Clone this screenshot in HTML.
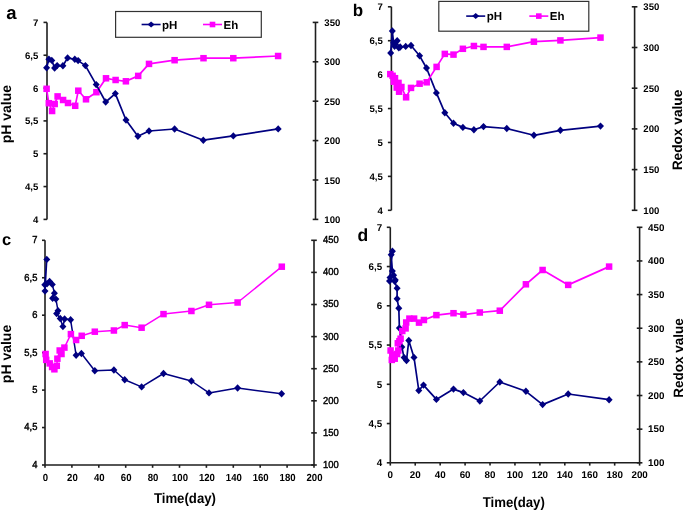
<!DOCTYPE html>
<html><head><meta charset="utf-8"><style>
html,body{margin:0;padding:0;background:#fff;}
body{width:685px;height:511px;overflow:hidden;}
svg{display:block;will-change:transform;filter:blur(0.3px);}
text{font-family:"Liberation Sans", sans-serif;text-rendering:geometricPrecision;}
</style></head><body>
<svg width="685" height="511" viewBox="0 0 685 511">
<rect width="685" height="511" fill="#fff"/>
<g font-family='"Liberation Sans", sans-serif' fill="#000">
<line x1="47" y1="22.4" x2="47" y2="219.4" stroke="#1e1e1e" stroke-width="1.6"/>
<line x1="43.5" y1="22.4" x2="47" y2="22.4" stroke="#1e1e1e" stroke-width="1.6"/>
<text transform="translate(38.30,25.90) scale(1.0,1.0)" font-size="9.6" text-anchor="end" font-weight="bold" >7</text>
<line x1="43.5" y1="55.233333333333334" x2="47" y2="55.233333333333334" stroke="#1e1e1e" stroke-width="1.6"/>
<text transform="translate(38.30,58.73) scale(1.0,1.0)" font-size="9.6" text-anchor="end" font-weight="bold" >6,5</text>
<line x1="43.5" y1="88.06666666666666" x2="47" y2="88.06666666666666" stroke="#1e1e1e" stroke-width="1.6"/>
<text transform="translate(38.30,91.57) scale(1.0,1.0)" font-size="9.6" text-anchor="end" font-weight="bold" >6</text>
<line x1="43.5" y1="120.9" x2="47" y2="120.9" stroke="#1e1e1e" stroke-width="1.6"/>
<text transform="translate(38.30,124.40) scale(1.0,1.0)" font-size="9.6" text-anchor="end" font-weight="bold" >5,5</text>
<line x1="43.5" y1="153.73333333333335" x2="47" y2="153.73333333333335" stroke="#1e1e1e" stroke-width="1.6"/>
<text transform="translate(38.30,157.23) scale(1.0,1.0)" font-size="9.6" text-anchor="end" font-weight="bold" >5</text>
<line x1="43.5" y1="186.56666666666666" x2="47" y2="186.56666666666666" stroke="#1e1e1e" stroke-width="1.6"/>
<text transform="translate(38.30,190.07) scale(1.0,1.0)" font-size="9.6" text-anchor="end" font-weight="bold" >4,5</text>
<line x1="43.5" y1="219.4" x2="47" y2="219.4" stroke="#1e1e1e" stroke-width="1.6"/>
<text transform="translate(38.30,222.90) scale(1.0,1.0)" font-size="9.6" text-anchor="end" font-weight="bold" >4</text>
<line x1="315.5" y1="22.4" x2="315.5" y2="219.4" stroke="#1e1e1e" stroke-width="1.6"/>
<line x1="312.7" y1="22.4" x2="318.3" y2="22.4" stroke="#1e1e1e" stroke-width="1.6"/>
<text transform="translate(324.30,25.90) scale(1.0,1.0)" font-size="9.6" text-anchor="start" font-weight="bold" >350</text>
<line x1="312.7" y1="61.8" x2="318.3" y2="61.8" stroke="#1e1e1e" stroke-width="1.6"/>
<text transform="translate(324.30,65.30) scale(1.0,1.0)" font-size="9.6" text-anchor="start" font-weight="bold" >300</text>
<line x1="312.7" y1="101.19999999999999" x2="318.3" y2="101.19999999999999" stroke="#1e1e1e" stroke-width="1.6"/>
<text transform="translate(324.30,104.70) scale(1.0,1.0)" font-size="9.6" text-anchor="start" font-weight="bold" >250</text>
<line x1="312.7" y1="140.6" x2="318.3" y2="140.6" stroke="#1e1e1e" stroke-width="1.6"/>
<text transform="translate(324.30,144.10) scale(1.0,1.0)" font-size="9.6" text-anchor="start" font-weight="bold" >200</text>
<line x1="312.7" y1="180.0" x2="318.3" y2="180.0" stroke="#1e1e1e" stroke-width="1.6"/>
<text transform="translate(324.30,183.50) scale(1.0,1.0)" font-size="9.6" text-anchor="start" font-weight="bold" >150</text>
<line x1="312.7" y1="219.4" x2="318.3" y2="219.4" stroke="#1e1e1e" stroke-width="1.6"/>
<text transform="translate(324.30,222.90) scale(1.0,1.0)" font-size="9.6" text-anchor="start" font-weight="bold" >100</text>
<polyline points="46.6,88.8 48.8,103.2 52.1,111 54.7,104 57.6,96.4 63.1,100 68,103 75.2,105.8 78.3,90.7 86,99.3 96.4,92.2 106,78.3 115.6,80 125.9,81.3 138.2,75.9 149,63.9 174.6,60.2 203.5,58.2 233.3,58.2 278.1,56" fill="none" stroke="#ff00ff" stroke-width="1.7" stroke-linejoin="round"/>
<rect x="43.35" y="85.55" width="6.5" height="6.5" fill="#ff00ff"/>
<rect x="45.55" y="99.95" width="6.5" height="6.5" fill="#ff00ff"/>
<rect x="48.85" y="107.75" width="6.5" height="6.5" fill="#ff00ff"/>
<rect x="51.45" y="100.75" width="6.5" height="6.5" fill="#ff00ff"/>
<rect x="54.35" y="93.15" width="6.5" height="6.5" fill="#ff00ff"/>
<rect x="59.85" y="96.75" width="6.5" height="6.5" fill="#ff00ff"/>
<rect x="64.75" y="99.75" width="6.5" height="6.5" fill="#ff00ff"/>
<rect x="71.95" y="102.55" width="6.5" height="6.5" fill="#ff00ff"/>
<rect x="75.05" y="87.45" width="6.5" height="6.5" fill="#ff00ff"/>
<rect x="82.75" y="96.05" width="6.5" height="6.5" fill="#ff00ff"/>
<rect x="93.15" y="88.95" width="6.5" height="6.5" fill="#ff00ff"/>
<rect x="102.75" y="75.05" width="6.5" height="6.5" fill="#ff00ff"/>
<rect x="112.35" y="76.75" width="6.5" height="6.5" fill="#ff00ff"/>
<rect x="122.65" y="78.05" width="6.5" height="6.5" fill="#ff00ff"/>
<rect x="134.95" y="72.65" width="6.5" height="6.5" fill="#ff00ff"/>
<rect x="145.75" y="60.65" width="6.5" height="6.5" fill="#ff00ff"/>
<rect x="171.35" y="56.95" width="6.5" height="6.5" fill="#ff00ff"/>
<rect x="200.25" y="54.95" width="6.5" height="6.5" fill="#ff00ff"/>
<rect x="230.05" y="54.95" width="6.5" height="6.5" fill="#ff00ff"/>
<rect x="274.85" y="52.75" width="6.5" height="6.5" fill="#ff00ff"/>
<polyline points="46.6,67.8 48.9,59.3 51.8,60.4 54.6,68 57.1,65.6 62.9,65.8 67.6,57.9 74.8,59.3 78.1,60.6 85.4,65.6 96.2,84.6 105.7,102 115.3,93.6 126,120 137.9,136.2 149,131 174.6,129 203.3,140.2 233.3,135.9 278.2,128.9" fill="none" stroke="#000080" stroke-width="1.7" stroke-linejoin="round"/>
<path d="M46.6,64.10L50.10,67.8L46.6,71.50L43.10,67.8Z" fill="#000080"/>
<path d="M48.9,55.60L52.40,59.3L48.9,63.00L45.40,59.3Z" fill="#000080"/>
<path d="M51.8,56.70L55.30,60.4L51.8,64.10L48.30,60.4Z" fill="#000080"/>
<path d="M54.6,64.30L58.10,68L54.6,71.70L51.10,68Z" fill="#000080"/>
<path d="M57.1,61.90L60.60,65.6L57.1,69.30L53.60,65.6Z" fill="#000080"/>
<path d="M62.9,62.10L66.40,65.8L62.9,69.50L59.40,65.8Z" fill="#000080"/>
<path d="M67.6,54.20L71.10,57.9L67.6,61.60L64.10,57.9Z" fill="#000080"/>
<path d="M74.8,55.60L78.30,59.3L74.8,63.00L71.30,59.3Z" fill="#000080"/>
<path d="M78.1,56.90L81.60,60.6L78.1,64.30L74.60,60.6Z" fill="#000080"/>
<path d="M85.4,61.90L88.90,65.6L85.4,69.30L81.90,65.6Z" fill="#000080"/>
<path d="M96.2,80.90L99.70,84.6L96.2,88.30L92.70,84.6Z" fill="#000080"/>
<path d="M105.7,98.30L109.20,102L105.7,105.70L102.20,102Z" fill="#000080"/>
<path d="M115.3,89.90L118.80,93.6L115.3,97.30L111.80,93.6Z" fill="#000080"/>
<path d="M126,116.30L129.50,120L126,123.70L122.50,120Z" fill="#000080"/>
<path d="M137.9,132.50L141.40,136.2L137.9,139.90L134.40,136.2Z" fill="#000080"/>
<path d="M149,127.30L152.50,131L149,134.70L145.50,131Z" fill="#000080"/>
<path d="M174.6,125.30L178.10,129L174.6,132.70L171.10,129Z" fill="#000080"/>
<path d="M203.3,136.50L206.80,140.2L203.3,143.90L199.80,140.2Z" fill="#000080"/>
<path d="M233.3,132.20L236.80,135.9L233.3,139.60L229.80,135.9Z" fill="#000080"/>
<path d="M278.2,125.20L281.70,128.9L278.2,132.60L274.70,128.9Z" fill="#000080"/>
<line x1="391.4" y1="6.8" x2="391.4" y2="210.3" stroke="#1e1e1e" stroke-width="1.6"/>
<line x1="387.9" y1="6.8" x2="391.4" y2="6.8" stroke="#1e1e1e" stroke-width="1.6"/>
<text transform="translate(382.80,10.30) scale(1.0,1.0)" font-size="9.6" text-anchor="end" font-weight="bold" >7</text>
<line x1="387.9" y1="40.71666666666666" x2="391.4" y2="40.71666666666666" stroke="#1e1e1e" stroke-width="1.6"/>
<text transform="translate(382.80,44.22) scale(1.0,1.0)" font-size="9.6" text-anchor="end" font-weight="bold" >6,5</text>
<line x1="387.9" y1="74.63333333333333" x2="391.4" y2="74.63333333333333" stroke="#1e1e1e" stroke-width="1.6"/>
<text transform="translate(382.80,78.13) scale(1.0,1.0)" font-size="9.6" text-anchor="end" font-weight="bold" >6</text>
<line x1="387.9" y1="108.55" x2="391.4" y2="108.55" stroke="#1e1e1e" stroke-width="1.6"/>
<text transform="translate(382.80,112.05) scale(1.0,1.0)" font-size="9.6" text-anchor="end" font-weight="bold" >5,5</text>
<line x1="387.9" y1="142.46666666666667" x2="391.4" y2="142.46666666666667" stroke="#1e1e1e" stroke-width="1.6"/>
<text transform="translate(382.80,145.97) scale(1.0,1.0)" font-size="9.6" text-anchor="end" font-weight="bold" >5</text>
<line x1="387.9" y1="176.38333333333335" x2="391.4" y2="176.38333333333335" stroke="#1e1e1e" stroke-width="1.6"/>
<text transform="translate(382.80,179.88) scale(1.0,1.0)" font-size="9.6" text-anchor="end" font-weight="bold" >4,5</text>
<line x1="387.9" y1="210.3" x2="391.4" y2="210.3" stroke="#1e1e1e" stroke-width="1.6"/>
<text transform="translate(382.80,213.80) scale(1.0,1.0)" font-size="9.6" text-anchor="end" font-weight="bold" >4</text>
<line x1="634.6" y1="6.8" x2="634.6" y2="210.3" stroke="#1e1e1e" stroke-width="1.6"/>
<line x1="631.8000000000001" y1="6.8" x2="637.4" y2="6.8" stroke="#1e1e1e" stroke-width="1.6"/>
<text transform="translate(643.30,10.30) scale(1.0,1.0)" font-size="9.6" text-anchor="start" font-weight="bold" >350</text>
<line x1="631.8000000000001" y1="47.5" x2="637.4" y2="47.5" stroke="#1e1e1e" stroke-width="1.6"/>
<text transform="translate(643.30,51.00) scale(1.0,1.0)" font-size="9.6" text-anchor="start" font-weight="bold" >300</text>
<line x1="631.8000000000001" y1="88.2" x2="637.4" y2="88.2" stroke="#1e1e1e" stroke-width="1.6"/>
<text transform="translate(643.30,91.70) scale(1.0,1.0)" font-size="9.6" text-anchor="start" font-weight="bold" >250</text>
<line x1="631.8000000000001" y1="128.9" x2="637.4" y2="128.9" stroke="#1e1e1e" stroke-width="1.6"/>
<text transform="translate(643.30,132.40) scale(1.0,1.0)" font-size="9.6" text-anchor="start" font-weight="bold" >200</text>
<line x1="631.8000000000001" y1="169.60000000000002" x2="637.4" y2="169.60000000000002" stroke="#1e1e1e" stroke-width="1.6"/>
<text transform="translate(643.30,173.10) scale(1.0,1.0)" font-size="9.6" text-anchor="start" font-weight="bold" >150</text>
<line x1="631.8000000000001" y1="210.3" x2="637.4" y2="210.3" stroke="#1e1e1e" stroke-width="1.6"/>
<text transform="translate(643.30,213.80) scale(1.0,1.0)" font-size="9.6" text-anchor="start" font-weight="bold" >100</text>
<polyline points="390.7,53 392.3,31 393.6,42.8 395.4,44.3 397.2,40.8 394.6,46.2 398.8,47.8 400.2,47 405.7,46.4 411,45.5 419.6,55.8 426.5,68 436.4,92.9 444.8,112.7 453.5,123.2 462.9,127.4 473.9,129.8 483.5,126.6 506.8,128.5 533.9,135.3 560.4,130.3 600.5,126.1" fill="none" stroke="#000080" stroke-width="1.7" stroke-linejoin="round"/>
<path d="M390.7,49.30L394.20,53L390.7,56.70L387.20,53Z" fill="#000080"/>
<path d="M392.3,27.30L395.80,31L392.3,34.70L388.80,31Z" fill="#000080"/>
<path d="M393.6,39.10L397.10,42.8L393.6,46.50L390.10,42.8Z" fill="#000080"/>
<path d="M395.4,40.60L398.90,44.3L395.4,48.00L391.90,44.3Z" fill="#000080"/>
<path d="M397.2,37.10L400.70,40.8L397.2,44.50L393.70,40.8Z" fill="#000080"/>
<path d="M394.6,42.50L398.10,46.2L394.6,49.90L391.10,46.2Z" fill="#000080"/>
<path d="M398.8,44.10L402.30,47.8L398.8,51.50L395.30,47.8Z" fill="#000080"/>
<path d="M400.2,43.30L403.70,47L400.2,50.70L396.70,47Z" fill="#000080"/>
<path d="M405.7,42.70L409.20,46.4L405.7,50.10L402.20,46.4Z" fill="#000080"/>
<path d="M411,41.80L414.50,45.5L411,49.20L407.50,45.5Z" fill="#000080"/>
<path d="M419.6,52.10L423.10,55.8L419.6,59.50L416.10,55.8Z" fill="#000080"/>
<path d="M426.5,64.30L430.00,68L426.5,71.70L423.00,68Z" fill="#000080"/>
<path d="M436.4,89.20L439.90,92.9L436.4,96.60L432.90,92.9Z" fill="#000080"/>
<path d="M444.8,109.00L448.30,112.7L444.8,116.40L441.30,112.7Z" fill="#000080"/>
<path d="M453.5,119.50L457.00,123.2L453.5,126.90L450.00,123.2Z" fill="#000080"/>
<path d="M462.9,123.70L466.40,127.4L462.9,131.10L459.40,127.4Z" fill="#000080"/>
<path d="M473.9,126.10L477.40,129.8L473.9,133.50L470.40,129.8Z" fill="#000080"/>
<path d="M483.5,122.90L487.00,126.6L483.5,130.30L480.00,126.6Z" fill="#000080"/>
<path d="M506.8,124.80L510.30,128.5L506.8,132.20L503.30,128.5Z" fill="#000080"/>
<path d="M533.9,131.60L537.40,135.3L533.9,139.00L530.40,135.3Z" fill="#000080"/>
<path d="M560.4,126.60L563.90,130.3L560.4,134.00L556.90,130.3Z" fill="#000080"/>
<path d="M600.5,122.40L604.00,126.1L600.5,129.80L597.00,126.1Z" fill="#000080"/>
<polyline points="390.3,74.1 392.6,75.8 395,78.2 393.8,81.7 398.5,82.9 396.7,87.6 399.1,91.7 401.4,87 406.1,97.3 411,87.9 419.6,83.7 426.7,82.3 436.6,66.9 444.8,53.9 453.5,54.6 462.9,48.8 473.9,46 483.5,46.9 506.8,46.9 533.9,41.7 560.4,40.4 600.5,37.6" fill="none" stroke="#ff00ff" stroke-width="1.7" stroke-linejoin="round"/>
<rect x="387.05" y="70.85" width="6.5" height="6.5" fill="#ff00ff"/>
<rect x="389.35" y="72.55" width="6.5" height="6.5" fill="#ff00ff"/>
<rect x="391.75" y="74.95" width="6.5" height="6.5" fill="#ff00ff"/>
<rect x="390.55" y="78.45" width="6.5" height="6.5" fill="#ff00ff"/>
<rect x="395.25" y="79.65" width="6.5" height="6.5" fill="#ff00ff"/>
<rect x="393.45" y="84.35" width="6.5" height="6.5" fill="#ff00ff"/>
<rect x="395.85" y="88.45" width="6.5" height="6.5" fill="#ff00ff"/>
<rect x="398.15" y="83.75" width="6.5" height="6.5" fill="#ff00ff"/>
<rect x="402.85" y="94.05" width="6.5" height="6.5" fill="#ff00ff"/>
<rect x="407.75" y="84.65" width="6.5" height="6.5" fill="#ff00ff"/>
<rect x="416.35" y="80.45" width="6.5" height="6.5" fill="#ff00ff"/>
<rect x="423.45" y="79.05" width="6.5" height="6.5" fill="#ff00ff"/>
<rect x="433.35" y="63.65" width="6.5" height="6.5" fill="#ff00ff"/>
<rect x="441.55" y="50.65" width="6.5" height="6.5" fill="#ff00ff"/>
<rect x="450.25" y="51.35" width="6.5" height="6.5" fill="#ff00ff"/>
<rect x="459.65" y="45.55" width="6.5" height="6.5" fill="#ff00ff"/>
<rect x="470.65" y="42.75" width="6.5" height="6.5" fill="#ff00ff"/>
<rect x="480.25" y="43.65" width="6.5" height="6.5" fill="#ff00ff"/>
<rect x="503.55" y="43.65" width="6.5" height="6.5" fill="#ff00ff"/>
<rect x="530.65" y="38.45" width="6.5" height="6.5" fill="#ff00ff"/>
<rect x="557.15" y="37.15" width="6.5" height="6.5" fill="#ff00ff"/>
<rect x="597.25" y="34.35" width="6.5" height="6.5" fill="#ff00ff"/>
<line x1="45" y1="240.3" x2="45" y2="465" stroke="#1e1e1e" stroke-width="1.6"/>
<line x1="42.0" y1="240.3" x2="45" y2="240.3" stroke="#1e1e1e" stroke-width="1.6"/>
<text transform="translate(37.40,243.20) scale(1.0,1.08)" font-size="9.4" text-anchor="end" font-weight="normal" stroke="#000" stroke-width="0.4">7</text>
<line x1="42.0" y1="277.75" x2="45" y2="277.75" stroke="#1e1e1e" stroke-width="1.6"/>
<text transform="translate(37.40,280.65) scale(1.0,1.08)" font-size="9.4" text-anchor="end" font-weight="normal" stroke="#000" stroke-width="0.4">6,5</text>
<line x1="42.0" y1="315.2" x2="45" y2="315.2" stroke="#1e1e1e" stroke-width="1.6"/>
<text transform="translate(37.40,318.10) scale(1.0,1.08)" font-size="9.4" text-anchor="end" font-weight="normal" stroke="#000" stroke-width="0.4">6</text>
<line x1="42.0" y1="352.65" x2="45" y2="352.65" stroke="#1e1e1e" stroke-width="1.6"/>
<text transform="translate(37.40,355.55) scale(1.0,1.08)" font-size="9.4" text-anchor="end" font-weight="normal" stroke="#000" stroke-width="0.4">5,5</text>
<line x1="42.0" y1="390.1" x2="45" y2="390.1" stroke="#1e1e1e" stroke-width="1.6"/>
<text transform="translate(37.40,393.00) scale(1.0,1.08)" font-size="9.4" text-anchor="end" font-weight="normal" stroke="#000" stroke-width="0.4">5</text>
<line x1="42.0" y1="427.55" x2="45" y2="427.55" stroke="#1e1e1e" stroke-width="1.6"/>
<text transform="translate(37.40,430.45) scale(1.0,1.08)" font-size="9.4" text-anchor="end" font-weight="normal" stroke="#000" stroke-width="0.4">4,5</text>
<line x1="42.0" y1="465.0" x2="45" y2="465.0" stroke="#1e1e1e" stroke-width="1.6"/>
<text transform="translate(37.40,467.90) scale(1.0,1.08)" font-size="9.4" text-anchor="end" font-weight="normal" stroke="#000" stroke-width="0.4">4</text>
<line x1="314" y1="240.3" x2="314" y2="465" stroke="#1e1e1e" stroke-width="1.6"/>
<line x1="311.2" y1="240.3" x2="316.8" y2="240.3" stroke="#1e1e1e" stroke-width="1.6"/>
<text transform="translate(323.00,243.20) scale(1.0,1.08)" font-size="9.4" text-anchor="start" font-weight="normal" stroke="#000" stroke-width="0.4">450</text>
<line x1="311.2" y1="272.40000000000003" x2="316.8" y2="272.40000000000003" stroke="#1e1e1e" stroke-width="1.6"/>
<text transform="translate(323.00,275.30) scale(1.0,1.08)" font-size="9.4" text-anchor="start" font-weight="normal" stroke="#000" stroke-width="0.4">400</text>
<line x1="311.2" y1="304.5" x2="316.8" y2="304.5" stroke="#1e1e1e" stroke-width="1.6"/>
<text transform="translate(323.00,307.40) scale(1.0,1.08)" font-size="9.4" text-anchor="start" font-weight="normal" stroke="#000" stroke-width="0.4">350</text>
<line x1="311.2" y1="336.6" x2="316.8" y2="336.6" stroke="#1e1e1e" stroke-width="1.6"/>
<text transform="translate(323.00,339.50) scale(1.0,1.08)" font-size="9.4" text-anchor="start" font-weight="normal" stroke="#000" stroke-width="0.4">300</text>
<line x1="311.2" y1="368.70000000000005" x2="316.8" y2="368.70000000000005" stroke="#1e1e1e" stroke-width="1.6"/>
<text transform="translate(323.00,371.60) scale(1.0,1.08)" font-size="9.4" text-anchor="start" font-weight="normal" stroke="#000" stroke-width="0.4">250</text>
<line x1="311.2" y1="400.8" x2="316.8" y2="400.8" stroke="#1e1e1e" stroke-width="1.6"/>
<text transform="translate(323.00,403.70) scale(1.0,1.08)" font-size="9.4" text-anchor="start" font-weight="normal" stroke="#000" stroke-width="0.4">200</text>
<line x1="311.2" y1="432.9" x2="316.8" y2="432.9" stroke="#1e1e1e" stroke-width="1.6"/>
<text transform="translate(323.00,435.80) scale(1.0,1.08)" font-size="9.4" text-anchor="start" font-weight="normal" stroke="#000" stroke-width="0.4">150</text>
<line x1="311.2" y1="465.0" x2="316.8" y2="465.0" stroke="#1e1e1e" stroke-width="1.6"/>
<text transform="translate(323.00,467.90) scale(1.0,1.08)" font-size="9.4" text-anchor="start" font-weight="normal" stroke="#000" stroke-width="0.4">100</text>
<line x1="45" y1="465" x2="314" y2="465" stroke="#1e1e1e" stroke-width="1.6"/>
<line x1="45.0" y1="465" x2="45.0" y2="467.8" stroke="#1e1e1e" stroke-width="1.6"/>
<text transform="translate(45.50,480.70) scale(1.0,1.08)" font-size="9.6" text-anchor="middle" font-weight="bold" >0</text>
<line x1="71.9" y1="465" x2="71.9" y2="467.8" stroke="#1e1e1e" stroke-width="1.6"/>
<text transform="translate(72.40,480.70) scale(1.0,1.08)" font-size="9.6" text-anchor="middle" font-weight="bold" >20</text>
<line x1="98.8" y1="465" x2="98.8" y2="467.8" stroke="#1e1e1e" stroke-width="1.6"/>
<text transform="translate(99.30,480.70) scale(1.0,1.08)" font-size="9.6" text-anchor="middle" font-weight="bold" >40</text>
<line x1="125.7" y1="465" x2="125.7" y2="467.8" stroke="#1e1e1e" stroke-width="1.6"/>
<text transform="translate(126.20,480.70) scale(1.0,1.08)" font-size="9.6" text-anchor="middle" font-weight="bold" >60</text>
<line x1="152.6" y1="465" x2="152.6" y2="467.8" stroke="#1e1e1e" stroke-width="1.6"/>
<text transform="translate(153.10,480.70) scale(1.0,1.08)" font-size="9.6" text-anchor="middle" font-weight="bold" >80</text>
<line x1="179.5" y1="465" x2="179.5" y2="467.8" stroke="#1e1e1e" stroke-width="1.6"/>
<text transform="translate(180.00,480.70) scale(1.0,1.08)" font-size="9.6" text-anchor="middle" font-weight="bold" >100</text>
<line x1="206.4" y1="465" x2="206.4" y2="467.8" stroke="#1e1e1e" stroke-width="1.6"/>
<text transform="translate(206.90,480.70) scale(1.0,1.08)" font-size="9.6" text-anchor="middle" font-weight="bold" >120</text>
<line x1="233.3" y1="465" x2="233.3" y2="467.8" stroke="#1e1e1e" stroke-width="1.6"/>
<text transform="translate(233.80,480.70) scale(1.0,1.08)" font-size="9.6" text-anchor="middle" font-weight="bold" >140</text>
<line x1="260.2" y1="465" x2="260.2" y2="467.8" stroke="#1e1e1e" stroke-width="1.6"/>
<text transform="translate(260.70,480.70) scale(1.0,1.08)" font-size="9.6" text-anchor="middle" font-weight="bold" >160</text>
<line x1="287.1" y1="465" x2="287.1" y2="467.8" stroke="#1e1e1e" stroke-width="1.6"/>
<text transform="translate(287.60,480.70) scale(1.0,1.08)" font-size="9.6" text-anchor="middle" font-weight="bold" >180</text>
<line x1="314.0" y1="465" x2="314.0" y2="467.8" stroke="#1e1e1e" stroke-width="1.6"/>
<text transform="translate(314.50,480.70) scale(1.0,1.08)" font-size="9.6" text-anchor="middle" font-weight="bold" >200</text>
<text transform="translate(153.90,502.70) scale(1.0,1.07)" font-size="13.2" text-anchor="start" font-weight="bold" >Time(day)</text>
<polyline points="45,291.1 46.8,259.4 44.8,284.7 47,283.8 49.6,281.5 52.3,284.4 54.4,293.2 52.6,298.2 55.9,299.1 58,310.7 56.6,313.6 60.2,318.5 62.9,326.6 64.6,319 70.6,319.8 76.1,355.2 81.4,353.5 94.8,370.8 113.9,370 124.7,379.8 141.6,386.9 163.5,373.5 191.4,381 209,392.9 237.6,388 281.6,393.8" fill="none" stroke="#000080" stroke-width="1.5" stroke-linejoin="round"/>
<path d="M45,287.40L48.50,291.1L45,294.80L41.50,291.1Z" fill="#000080"/>
<path d="M46.8,255.70L50.30,259.4L46.8,263.10L43.30,259.4Z" fill="#000080"/>
<path d="M44.8,281.00L48.30,284.7L44.8,288.40L41.30,284.7Z" fill="#000080"/>
<path d="M47,280.10L50.50,283.8L47,287.50L43.50,283.8Z" fill="#000080"/>
<path d="M49.6,277.80L53.10,281.5L49.6,285.20L46.10,281.5Z" fill="#000080"/>
<path d="M52.3,280.70L55.80,284.4L52.3,288.10L48.80,284.4Z" fill="#000080"/>
<path d="M54.4,289.50L57.90,293.2L54.4,296.90L50.90,293.2Z" fill="#000080"/>
<path d="M52.6,294.50L56.10,298.2L52.6,301.90L49.10,298.2Z" fill="#000080"/>
<path d="M55.9,295.40L59.40,299.1L55.9,302.80L52.40,299.1Z" fill="#000080"/>
<path d="M58,307.00L61.50,310.7L58,314.40L54.50,310.7Z" fill="#000080"/>
<path d="M56.6,309.90L60.10,313.6L56.6,317.30L53.10,313.6Z" fill="#000080"/>
<path d="M60.2,314.80L63.70,318.5L60.2,322.20L56.70,318.5Z" fill="#000080"/>
<path d="M62.9,322.90L66.40,326.6L62.9,330.30L59.40,326.6Z" fill="#000080"/>
<path d="M64.6,315.30L68.10,319L64.6,322.70L61.10,319Z" fill="#000080"/>
<path d="M70.6,316.10L74.10,319.8L70.6,323.50L67.10,319.8Z" fill="#000080"/>
<path d="M76.1,351.50L79.60,355.2L76.1,358.90L72.60,355.2Z" fill="#000080"/>
<path d="M81.4,349.80L84.90,353.5L81.4,357.20L77.90,353.5Z" fill="#000080"/>
<path d="M94.8,367.10L98.30,370.8L94.8,374.50L91.30,370.8Z" fill="#000080"/>
<path d="M113.9,366.30L117.40,370L113.9,373.70L110.40,370Z" fill="#000080"/>
<path d="M124.7,376.10L128.20,379.8L124.7,383.50L121.20,379.8Z" fill="#000080"/>
<path d="M141.6,383.20L145.10,386.9L141.6,390.60L138.10,386.9Z" fill="#000080"/>
<path d="M163.5,369.80L167.00,373.5L163.5,377.20L160.00,373.5Z" fill="#000080"/>
<path d="M191.4,377.30L194.90,381L191.4,384.70L187.90,381Z" fill="#000080"/>
<path d="M209,389.20L212.50,392.9L209,396.60L205.50,392.9Z" fill="#000080"/>
<path d="M237.6,384.30L241.10,388L237.6,391.70L234.10,388Z" fill="#000080"/>
<path d="M281.6,390.10L285.10,393.8L281.6,397.50L278.10,393.8Z" fill="#000080"/>
<polyline points="45.6,354 46.2,359.9 49.7,363.4 52.1,367 54.4,369.3 56.8,365.8 57.4,358.7 59.7,350.5 61.5,354 64.4,347.6 70.9,334.1 76.1,340 81.7,335.8 94.8,331.7 113.9,330.5 124.7,325.1 141.6,327.7 163.5,314.1 191.4,311 209,304.8 237.6,302.5 281.8,266.7" fill="none" stroke="#ff00ff" stroke-width="1.5" stroke-linejoin="round"/>
<rect x="42.35" y="350.75" width="6.5" height="6.5" fill="#ff00ff"/>
<rect x="42.95" y="356.65" width="6.5" height="6.5" fill="#ff00ff"/>
<rect x="46.45" y="360.15" width="6.5" height="6.5" fill="#ff00ff"/>
<rect x="48.85" y="363.75" width="6.5" height="6.5" fill="#ff00ff"/>
<rect x="51.15" y="366.05" width="6.5" height="6.5" fill="#ff00ff"/>
<rect x="53.55" y="362.55" width="6.5" height="6.5" fill="#ff00ff"/>
<rect x="54.15" y="355.45" width="6.5" height="6.5" fill="#ff00ff"/>
<rect x="56.45" y="347.25" width="6.5" height="6.5" fill="#ff00ff"/>
<rect x="58.25" y="350.75" width="6.5" height="6.5" fill="#ff00ff"/>
<rect x="61.15" y="344.35" width="6.5" height="6.5" fill="#ff00ff"/>
<rect x="67.65" y="330.85" width="6.5" height="6.5" fill="#ff00ff"/>
<rect x="72.85" y="336.75" width="6.5" height="6.5" fill="#ff00ff"/>
<rect x="78.45" y="332.55" width="6.5" height="6.5" fill="#ff00ff"/>
<rect x="91.55" y="328.45" width="6.5" height="6.5" fill="#ff00ff"/>
<rect x="110.65" y="327.25" width="6.5" height="6.5" fill="#ff00ff"/>
<rect x="121.45" y="321.85" width="6.5" height="6.5" fill="#ff00ff"/>
<rect x="138.35" y="324.45" width="6.5" height="6.5" fill="#ff00ff"/>
<rect x="160.25" y="310.85" width="6.5" height="6.5" fill="#ff00ff"/>
<rect x="188.15" y="307.75" width="6.5" height="6.5" fill="#ff00ff"/>
<rect x="205.75" y="301.55" width="6.5" height="6.5" fill="#ff00ff"/>
<rect x="234.35" y="299.25" width="6.5" height="6.5" fill="#ff00ff"/>
<rect x="278.55" y="263.45" width="6.5" height="6.5" fill="#ff00ff"/>
<line x1="390.3" y1="227.3" x2="390.3" y2="462.8" stroke="#1e1e1e" stroke-width="1.6"/>
<line x1="386.8" y1="227.3" x2="390.3" y2="227.3" stroke="#1e1e1e" stroke-width="1.6"/>
<text transform="translate(382.20,230.60) scale(1.0,1.0)" font-size="9.8" text-anchor="end" font-weight="bold" >7</text>
<line x1="386.8" y1="266.55" x2="390.3" y2="266.55" stroke="#1e1e1e" stroke-width="1.6"/>
<text transform="translate(382.20,269.85) scale(1.0,1.0)" font-size="9.8" text-anchor="end" font-weight="bold" >6,5</text>
<line x1="386.8" y1="305.8" x2="390.3" y2="305.8" stroke="#1e1e1e" stroke-width="1.6"/>
<text transform="translate(382.20,309.10) scale(1.0,1.0)" font-size="9.8" text-anchor="end" font-weight="bold" >6</text>
<line x1="386.8" y1="345.05" x2="390.3" y2="345.05" stroke="#1e1e1e" stroke-width="1.6"/>
<text transform="translate(382.20,348.35) scale(1.0,1.0)" font-size="9.8" text-anchor="end" font-weight="bold" >5,5</text>
<line x1="386.8" y1="384.3" x2="390.3" y2="384.3" stroke="#1e1e1e" stroke-width="1.6"/>
<text transform="translate(382.20,387.60) scale(1.0,1.0)" font-size="9.8" text-anchor="end" font-weight="bold" >5</text>
<line x1="386.8" y1="423.55" x2="390.3" y2="423.55" stroke="#1e1e1e" stroke-width="1.6"/>
<text transform="translate(382.20,426.85) scale(1.0,1.0)" font-size="9.8" text-anchor="end" font-weight="bold" >4,5</text>
<line x1="386.8" y1="462.8" x2="390.3" y2="462.8" stroke="#1e1e1e" stroke-width="1.6"/>
<text transform="translate(382.20,466.10) scale(1.0,1.0)" font-size="9.8" text-anchor="end" font-weight="bold" >4</text>
<line x1="639.6" y1="227.3" x2="639.6" y2="462.8" stroke="#1e1e1e" stroke-width="1.6"/>
<line x1="636.8000000000001" y1="227.3" x2="642.4" y2="227.3" stroke="#1e1e1e" stroke-width="1.6"/>
<text transform="translate(648.00,230.60) scale(1.0,1.0)" font-size="9.8" text-anchor="start" font-weight="bold" >450</text>
<line x1="636.8000000000001" y1="260.9428571428572" x2="642.4" y2="260.9428571428572" stroke="#1e1e1e" stroke-width="1.6"/>
<text transform="translate(648.00,264.24) scale(1.0,1.0)" font-size="9.8" text-anchor="start" font-weight="bold" >400</text>
<line x1="636.8000000000001" y1="294.5857142857143" x2="642.4" y2="294.5857142857143" stroke="#1e1e1e" stroke-width="1.6"/>
<text transform="translate(648.00,297.89) scale(1.0,1.0)" font-size="9.8" text-anchor="start" font-weight="bold" >350</text>
<line x1="636.8000000000001" y1="328.22857142857146" x2="642.4" y2="328.22857142857146" stroke="#1e1e1e" stroke-width="1.6"/>
<text transform="translate(648.00,331.53) scale(1.0,1.0)" font-size="9.8" text-anchor="start" font-weight="bold" >300</text>
<line x1="636.8000000000001" y1="361.8714285714286" x2="642.4" y2="361.8714285714286" stroke="#1e1e1e" stroke-width="1.6"/>
<text transform="translate(648.00,365.17) scale(1.0,1.0)" font-size="9.8" text-anchor="start" font-weight="bold" >250</text>
<line x1="636.8000000000001" y1="395.51428571428573" x2="642.4" y2="395.51428571428573" stroke="#1e1e1e" stroke-width="1.6"/>
<text transform="translate(648.00,398.81) scale(1.0,1.0)" font-size="9.8" text-anchor="start" font-weight="bold" >200</text>
<line x1="636.8000000000001" y1="429.15714285714284" x2="642.4" y2="429.15714285714284" stroke="#1e1e1e" stroke-width="1.6"/>
<text transform="translate(648.00,432.46) scale(1.0,1.0)" font-size="9.8" text-anchor="start" font-weight="bold" >150</text>
<line x1="636.8000000000001" y1="462.8" x2="642.4" y2="462.8" stroke="#1e1e1e" stroke-width="1.6"/>
<text transform="translate(648.00,466.10) scale(1.0,1.0)" font-size="9.8" text-anchor="start" font-weight="bold" >100</text>
<line x1="390.3" y1="462.8" x2="639.6" y2="462.8" stroke="#1e1e1e" stroke-width="1.6"/>
<line x1="390.3" y1="462.8" x2="390.3" y2="465.6" stroke="#1e1e1e" stroke-width="1.6"/>
<text transform="translate(390.30,478.20) scale(1.0,1.0)" font-size="9.8" text-anchor="middle" font-weight="bold" >0</text>
<line x1="415.23" y1="462.8" x2="415.23" y2="465.6" stroke="#1e1e1e" stroke-width="1.6"/>
<text transform="translate(415.23,478.20) scale(1.0,1.0)" font-size="9.8" text-anchor="middle" font-weight="bold" >20</text>
<line x1="440.16" y1="462.8" x2="440.16" y2="465.6" stroke="#1e1e1e" stroke-width="1.6"/>
<text transform="translate(440.16,478.20) scale(1.0,1.0)" font-size="9.8" text-anchor="middle" font-weight="bold" >40</text>
<line x1="465.09000000000003" y1="462.8" x2="465.09000000000003" y2="465.6" stroke="#1e1e1e" stroke-width="1.6"/>
<text transform="translate(465.09,478.20) scale(1.0,1.0)" font-size="9.8" text-anchor="middle" font-weight="bold" >60</text>
<line x1="490.02" y1="462.8" x2="490.02" y2="465.6" stroke="#1e1e1e" stroke-width="1.6"/>
<text transform="translate(490.02,478.20) scale(1.0,1.0)" font-size="9.8" text-anchor="middle" font-weight="bold" >80</text>
<line x1="514.95" y1="462.8" x2="514.95" y2="465.6" stroke="#1e1e1e" stroke-width="1.6"/>
<text transform="translate(514.95,478.20) scale(1.0,1.0)" font-size="9.8" text-anchor="middle" font-weight="bold" >100</text>
<line x1="539.88" y1="462.8" x2="539.88" y2="465.6" stroke="#1e1e1e" stroke-width="1.6"/>
<text transform="translate(539.88,478.20) scale(1.0,1.0)" font-size="9.8" text-anchor="middle" font-weight="bold" >120</text>
<line x1="564.8100000000001" y1="462.8" x2="564.8100000000001" y2="465.6" stroke="#1e1e1e" stroke-width="1.6"/>
<text transform="translate(564.81,478.20) scale(1.0,1.0)" font-size="9.8" text-anchor="middle" font-weight="bold" >140</text>
<line x1="589.74" y1="462.8" x2="589.74" y2="465.6" stroke="#1e1e1e" stroke-width="1.6"/>
<text transform="translate(589.74,478.20) scale(1.0,1.0)" font-size="9.8" text-anchor="middle" font-weight="bold" >160</text>
<line x1="614.6700000000001" y1="462.8" x2="614.6700000000001" y2="465.6" stroke="#1e1e1e" stroke-width="1.6"/>
<text transform="translate(614.67,478.20) scale(1.0,1.0)" font-size="9.8" text-anchor="middle" font-weight="bold" >180</text>
<line x1="639.6" y1="462.8" x2="639.6" y2="465.6" stroke="#1e1e1e" stroke-width="1.6"/>
<text transform="translate(639.60,478.20) scale(1.0,1.0)" font-size="9.8" text-anchor="middle" font-weight="bold" >200</text>
<text transform="translate(482.80,506.50) scale(1.0,1.07)" font-size="13.2" text-anchor="start" font-weight="bold" >Time(day)</text>
<polyline points="390,277.6 392.4,251.2 391.2,254.7 392.4,271.1 393.6,275.2 389.5,281.1 395.3,279.9 394.7,281.2 397.1,288.2 397.1,298.8 398.8,308.2 399.4,328.1 401.8,347 404.1,357.6 406.5,360.5 408.8,340.5 414,357.4 418.8,390.5 423.5,385.1 436.4,399.4 453.5,389.1 463.4,392.6 479.8,401 499.8,382 525.9,391.3 542.6,404.6 568.2,394 609.1,399.7" fill="none" stroke="#000080" stroke-width="1.7" stroke-linejoin="round"/>
<path d="M390,273.90L393.50,277.6L390,281.30L386.50,277.6Z" fill="#000080"/>
<path d="M392.4,247.50L395.90,251.2L392.4,254.90L388.90,251.2Z" fill="#000080"/>
<path d="M391.2,251.00L394.70,254.7L391.2,258.40L387.70,254.7Z" fill="#000080"/>
<path d="M392.4,267.40L395.90,271.1L392.4,274.80L388.90,271.1Z" fill="#000080"/>
<path d="M393.6,271.50L397.10,275.2L393.6,278.90L390.10,275.2Z" fill="#000080"/>
<path d="M389.5,277.40L393.00,281.1L389.5,284.80L386.00,281.1Z" fill="#000080"/>
<path d="M395.3,276.20L398.80,279.9L395.3,283.60L391.80,279.9Z" fill="#000080"/>
<path d="M394.7,277.50L398.20,281.2L394.7,284.90L391.20,281.2Z" fill="#000080"/>
<path d="M397.1,284.50L400.60,288.2L397.1,291.90L393.60,288.2Z" fill="#000080"/>
<path d="M397.1,295.10L400.60,298.8L397.1,302.50L393.60,298.8Z" fill="#000080"/>
<path d="M398.8,304.50L402.30,308.2L398.8,311.90L395.30,308.2Z" fill="#000080"/>
<path d="M399.4,324.40L402.90,328.1L399.4,331.80L395.90,328.1Z" fill="#000080"/>
<path d="M401.8,343.30L405.30,347L401.8,350.70L398.30,347Z" fill="#000080"/>
<path d="M404.1,353.90L407.60,357.6L404.1,361.30L400.60,357.6Z" fill="#000080"/>
<path d="M406.5,356.80L410.00,360.5L406.5,364.20L403.00,360.5Z" fill="#000080"/>
<path d="M408.8,336.80L412.30,340.5L408.8,344.20L405.30,340.5Z" fill="#000080"/>
<path d="M414,353.70L417.50,357.4L414,361.10L410.50,357.4Z" fill="#000080"/>
<path d="M418.8,386.80L422.30,390.5L418.8,394.20L415.30,390.5Z" fill="#000080"/>
<path d="M423.5,381.40L427.00,385.1L423.5,388.80L420.00,385.1Z" fill="#000080"/>
<path d="M436.4,395.70L439.90,399.4L436.4,403.10L432.90,399.4Z" fill="#000080"/>
<path d="M453.5,385.40L457.00,389.1L453.5,392.80L450.00,389.1Z" fill="#000080"/>
<path d="M463.4,388.90L466.90,392.6L463.4,396.30L459.90,392.6Z" fill="#000080"/>
<path d="M479.8,397.30L483.30,401L479.8,404.70L476.30,401Z" fill="#000080"/>
<path d="M499.8,378.30L503.30,382L499.8,385.70L496.30,382Z" fill="#000080"/>
<path d="M525.9,387.60L529.40,391.3L525.9,395.00L522.40,391.3Z" fill="#000080"/>
<path d="M542.6,400.90L546.10,404.6L542.6,408.30L539.10,404.6Z" fill="#000080"/>
<path d="M568.2,390.30L571.70,394L568.2,397.70L564.70,394Z" fill="#000080"/>
<path d="M609.1,396.00L612.60,399.7L609.1,403.40L605.60,399.7Z" fill="#000080"/>
<polyline points="390.6,350.5 391.8,359.9 392.4,355.2 394.7,358.7 397.1,354 398.3,350.5 397.8,343.3 399.4,341.2 400.6,338.7 402.3,331 405.6,328.4 406.2,322.5 409.4,318.6 414.1,318.6 419,322.6 423.9,320 436.4,315.1 453.5,313.2 463.4,314.6 479.8,312.5 499.8,310.7 525.9,284.3 542.6,270 568.2,284.9 609.1,266.6" fill="none" stroke="#ff00ff" stroke-width="1.7" stroke-linejoin="round"/>
<rect x="387.35" y="347.25" width="6.5" height="6.5" fill="#ff00ff"/>
<rect x="388.55" y="356.65" width="6.5" height="6.5" fill="#ff00ff"/>
<rect x="389.15" y="351.95" width="6.5" height="6.5" fill="#ff00ff"/>
<rect x="391.45" y="355.45" width="6.5" height="6.5" fill="#ff00ff"/>
<rect x="393.85" y="350.75" width="6.5" height="6.5" fill="#ff00ff"/>
<rect x="395.05" y="347.25" width="6.5" height="6.5" fill="#ff00ff"/>
<rect x="394.55" y="340.05" width="6.5" height="6.5" fill="#ff00ff"/>
<rect x="396.15" y="337.95" width="6.5" height="6.5" fill="#ff00ff"/>
<rect x="397.35" y="335.45" width="6.5" height="6.5" fill="#ff00ff"/>
<rect x="399.05" y="327.75" width="6.5" height="6.5" fill="#ff00ff"/>
<rect x="402.35" y="325.15" width="6.5" height="6.5" fill="#ff00ff"/>
<rect x="402.95" y="319.25" width="6.5" height="6.5" fill="#ff00ff"/>
<rect x="406.15" y="315.35" width="6.5" height="6.5" fill="#ff00ff"/>
<rect x="410.85" y="315.35" width="6.5" height="6.5" fill="#ff00ff"/>
<rect x="415.75" y="319.35" width="6.5" height="6.5" fill="#ff00ff"/>
<rect x="420.65" y="316.75" width="6.5" height="6.5" fill="#ff00ff"/>
<rect x="433.15" y="311.85" width="6.5" height="6.5" fill="#ff00ff"/>
<rect x="450.25" y="309.95" width="6.5" height="6.5" fill="#ff00ff"/>
<rect x="460.15" y="311.35" width="6.5" height="6.5" fill="#ff00ff"/>
<rect x="476.55" y="309.25" width="6.5" height="6.5" fill="#ff00ff"/>
<rect x="496.55" y="307.45" width="6.5" height="6.5" fill="#ff00ff"/>
<rect x="522.65" y="281.05" width="6.5" height="6.5" fill="#ff00ff"/>
<rect x="539.35" y="266.75" width="6.5" height="6.5" fill="#ff00ff"/>
<rect x="564.95" y="281.65" width="6.5" height="6.5" fill="#ff00ff"/>
<rect x="605.85" y="263.35" width="6.5" height="6.5" fill="#ff00ff"/>
<rect x="115.6" y="11.5" width="145.70000000000002" height="25.799999999999997" fill="#fff" stroke="#333" stroke-width="1.2"/>
<line x1="141.6" y1="24.5" x2="160.6" y2="24.5" stroke="#000080" stroke-width="1.6"/>
<path d="M151.1,21.50L154.60,24.5L151.1,27.50L147.60,24.5Z" fill="#000080"/>
<text x="162.1" y="28.6" font-size="11.5" text-anchor="start" font-weight="bold" >pH</text>
<line x1="203" y1="24.5" x2="222" y2="24.5" stroke="#ff00ff" stroke-width="1.6"/>
<rect x="209.70" y="21.70" width="5.6" height="5.6" fill="#ff00ff"/>
<text x="223.5" y="28.6" font-size="11.5" text-anchor="start" font-weight="bold" >Eh</text>
<rect x="438.8" y="1.4" width="149.99999999999994" height="29.8" fill="#fff" stroke="#333" stroke-width="1.2"/>
<line x1="466.2" y1="16.1" x2="485.2" y2="16.1" stroke="#000080" stroke-width="1.6"/>
<path d="M475.7,13.10L479.20,16.1L475.7,19.10L472.20,16.1Z" fill="#000080"/>
<text x="486.7" y="20.200000000000003" font-size="11.5" text-anchor="start" font-weight="bold" >pH</text>
<line x1="529.3" y1="16.1" x2="548.3" y2="16.1" stroke="#ff00ff" stroke-width="1.6"/>
<rect x="536.00" y="13.30" width="5.6" height="5.6" fill="#ff00ff"/>
<text x="549.8" y="20.200000000000003" font-size="11.5" text-anchor="start" font-weight="bold" >Eh</text>
<text x="6.2" y="19.3" font-size="18.5" text-anchor="start" font-weight="bold" >a</text>
<text x="352.8" y="15.8" font-size="17" text-anchor="start" font-weight="bold" >b</text>
<text x="2.0" y="245.1" font-size="16.5" text-anchor="start" font-weight="bold" >c</text>
<text x="357.6" y="240.8" font-size="17.5" text-anchor="start" font-weight="bold" >d</text>
<text x="0" y="0" font-size="14" text-anchor="middle" font-weight="bold" transform="translate(11.4,114.2) rotate(-90)">pH value</text>
<text x="0" y="0" font-size="14" text-anchor="middle" font-weight="bold" transform="translate(11.0,354) rotate(-90)">pH value</text>
<text x="0" y="0" font-size="13.7" text-anchor="middle" font-weight="bold" transform="translate(681.6,130) rotate(-90)">Redox value</text>
<text x="0" y="0" font-size="13.5" text-anchor="middle" font-weight="bold" transform="translate(683.1,358.1) rotate(-90)">Redox value</text>
</g></svg>
</body></html>
